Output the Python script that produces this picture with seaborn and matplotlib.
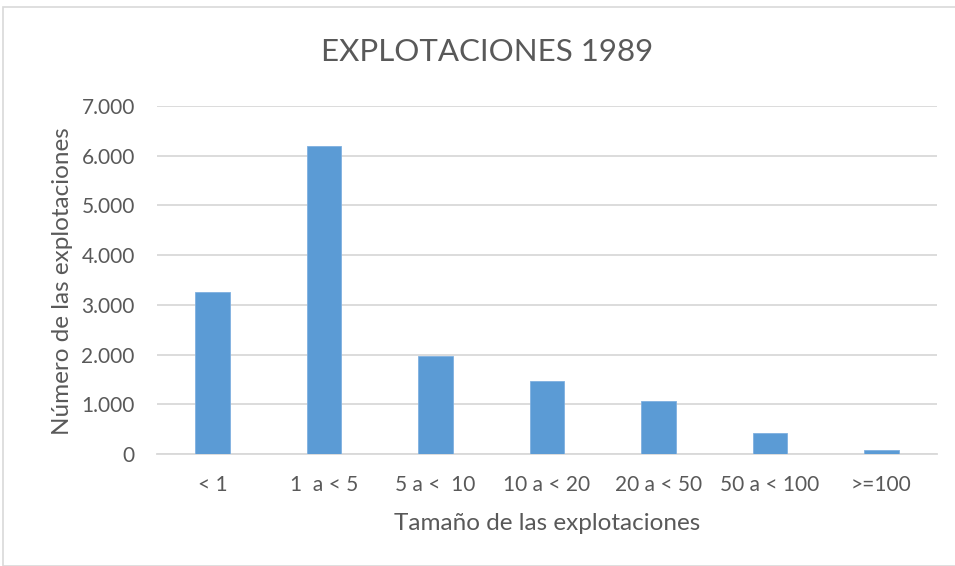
import matplotlib
matplotlib.use("Agg")
import matplotlib.pyplot as plt
import seaborn as sns
import pandas as pd
from matplotlib.ticker import FuncFormatter
from matplotlib.patches import Rectangle

categories = ["< 1", "1  a < 5", "5 a <  10", "10 a < 20", "20 a < 50", "50 a < 100", ">=100"]
values = [3250, 6200, 1970, 1470, 1060, 420, 90]
title = "EXPLOTACIONES 1989"
xlabel = "Tamaño de las explotaciones"
ylabel = "Número de las explotaciones"

sns.set_theme(style="white")
plt.rcParams['font.family'] = ['Lato', 'DejaVu Sans']
txt = "#595959"

df = pd.DataFrame({"cat": categories, "val": values})
fig = plt.figure(figsize=(9.55, 5.66), dpi=100)
ax = fig.add_axes([157/955, 1-454/566, (937-157)/955, (454-106)/566])
sns.barplot(data=df, x="cat", y="val", color="#5B9BD5", width=0.31, ax=ax,
            saturation=1, edgecolor="#7FB0E0", linewidth=0.6, zorder=3)
ax.set_ylim(0, 7000)
ax.set_yticks(range(0, 7001, 1000))
ax.yaxis.set_major_formatter(FuncFormatter(lambda v, p: f"{int(v):,}".replace(",", ".")))
ax.grid(axis="y", color="#D9D9D9", linewidth=1.3, zorder=0)
for s in ["top", "right", "left"]:
    ax.spines[s].set_visible(False)
ax.spines["bottom"].set_color("#D9D9D9")
ax.spines["bottom"].set_linewidth(1.3)
ax.tick_params(axis="both", length=0, labelsize=15, colors=txt)
ax.tick_params(axis="y", pad=16)
ax.tick_params(axis="x", pad=15)
ax.set_xlabel(xlabel, fontsize=17.5, color=txt, va="center")
ax.set_ylabel(ylabel, fontsize=17.5, color=txt, va="center")
ax.xaxis.set_label_coords(0.5, (454 - 523) / 348)
ax.yaxis.set_label_coords((62 - 157) / 780, (454 - 281) / 348)
fig.text(487/955, 1-52/566, title, ha="center", va="center", fontsize=22.5, color=txt)
fig.patches.append(Rectangle((3/955, 0), 1, 1-7/566, transform=fig.transFigure,
                             fill=False, edgecolor="#D9D9D9", linewidth=1.2))
fig.savefig("out.png", dpi=100)
